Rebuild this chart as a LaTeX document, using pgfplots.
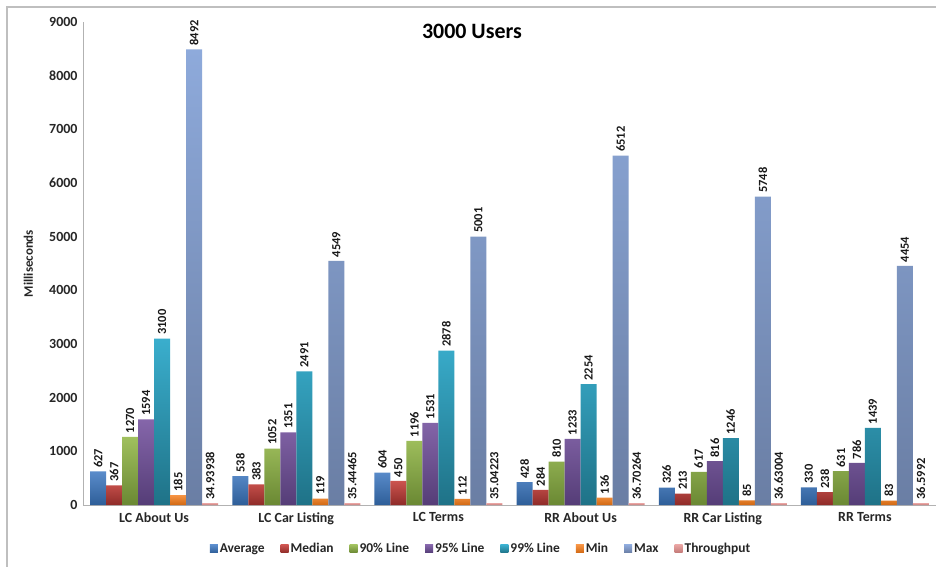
\documentclass[border=0pt]{standalone}
\usepackage{fontspec}
\setmainfont{Carlito}
\usepackage{pgfplots}
\pgfplotsset{compat=1.18}
\definecolor{avgT}{HTML}{5A8CCB}\definecolor{avgB}{HTML}{2E5E98}
\definecolor{medT}{HTML}{CC544F}\definecolor{medB}{HTML}{8E2B28}
\definecolor{n90T}{HTML}{A0C05E}\definecolor{n90B}{HTML}{6A8833}
\definecolor{n95T}{HTML}{8566AA}\definecolor{n95B}{HTML}{553D77}
\definecolor{n99T}{HTML}{3AAECD}\definecolor{n99B}{HTML}{1F7287}
\definecolor{minT}{HTML}{F69444}\definecolor{minB}{HTML}{D16812}
\definecolor{maxT}{HTML}{8EAADB}\definecolor{maxB}{HTML}{6A7EA4}
\definecolor{thrT}{HTML}{E8A4A2}\definecolor{thrB}{HTML}{C27876}
\begin{document}
\begin{tikzpicture}
\useasboundingbox (0,0) rectangle (936bp,567bp);
\fill[white] (0,0) rectangle (936bp,567bp);
\draw[black!25, line width=1.5bp] (7bp,0) -- (7bp,560bp) -- (940bp,560bp);
\begin{axis}[
  at={(83bp,62bp)}, anchor=south west,
  scale only axis, width=853bp, height=483bp,
  ymin=0, ymax=9000, ytick={0,1000,...,9000},
  xmin=-0.5, xmax=5.5, xtick={0,...,5},
  xticklabels={LC About Us, LC Car Listing, LC Terms, RR About Us, RR Car Listing, RR Terms},
  ybar=0pt, bar width=16bp,
  axis x line*=bottom, axis y line*=left,
  axis line style={black!30, line width=0.8bp, -},
  major tick length=0pt,
  tick label style={font=\fontsize{14}{16}\selectfont\bfseries, text=black!85},
  xticklabel style={yshift=-4bp},
  yticklabel style={xshift=-2bp},
  /pgf/number format/assume math mode=true,
  /pgf/number format/1000 sep={},
  ylabel={Milliseconds},
  ylabel style={at={(axis description cs:-0.064,0.5)}, anchor=center, font=\fontsize{13}{15}\selectfont\bfseries, text=black!85},
  nodes near coords, point meta=explicit symbolic,
  nodes near coords style={rotate=90, anchor=west, font=\fontsize{12.5}{14}\selectfont\bfseries, text=black!90, inner sep=3.5bp},
  legend columns=8,
  legend style={at={(axis description cs:0.4666,-0.0909)}, anchor=center, draw=none, fill=none,
    font=\fontsize{13.5}{15}\selectfont\bfseries, text=black!85,
    /tikz/every even column/.append style={column sep=14bp}},
  legend image code/.code={\path[#1, draw=none] (0bp,-4bp) rectangle (8bp,4bp);},
]
\addplot[draw=none, top color=avgT, bottom color=avgB] coordinates {(0,627)[627] (1,538)[538] (2,604)[604] (3,428)[428] (4,326)[326] (5,330)[330]};
\addplot[draw=none, top color=medT, bottom color=medB] coordinates {(0,367)[367] (1,383)[383] (2,450)[450] (3,284)[284] (4,213)[213] (5,238)[238]};
\addplot[draw=none, top color=n90T, bottom color=n90B] coordinates {(0,1270)[1270] (1,1052)[1052] (2,1196)[1196] (3,810)[810] (4,617)[617] (5,631)[631]};
\addplot[draw=none, top color=n95T, bottom color=n95B] coordinates {(0,1594)[1594] (1,1351)[1351] (2,1531)[1531] (3,1233)[1233] (4,816)[816] (5,786)[786]};
\addplot[draw=none, top color=n99T, bottom color=n99B] coordinates {(0,3100)[3100] (1,2491)[2491] (2,2878)[2878] (3,2254)[2254] (4,1246)[1246] (5,1439)[1439]};
\addplot[draw=none, top color=minT, bottom color=minB] coordinates {(0,185)[185] (1,119)[119] (2,112)[112] (3,136)[136] (4,85)[85] (5,83)[83]};
\addplot[draw=none, top color=maxT, bottom color=maxB] coordinates {(0,8492)[8492] (1,4549)[4549] (2,5001)[5001] (3,6512)[6512] (4,5748)[5748] (5,4454)[4454]};
\addplot[draw=none, top color=thrT, bottom color=thrB] coordinates {(0,34.93938)[34.93938] (1,35.44465)[35.44465] (2,35.04223)[35.04223] (3,36.70264)[36.70264] (4,36.63004)[36.63004] (5,36.5992)[36.5992]};
\legend{Average, Median, 90\% Line, 95\% Line, 99\% Line, Min, Max, Throughput}
\node[font=\fontsize{22}{24}\selectfont\bfseries, text=black] at (axis description cs:0.456,0.981) {3000 Users};
\end{axis}
\end{tikzpicture}
\end{document}
